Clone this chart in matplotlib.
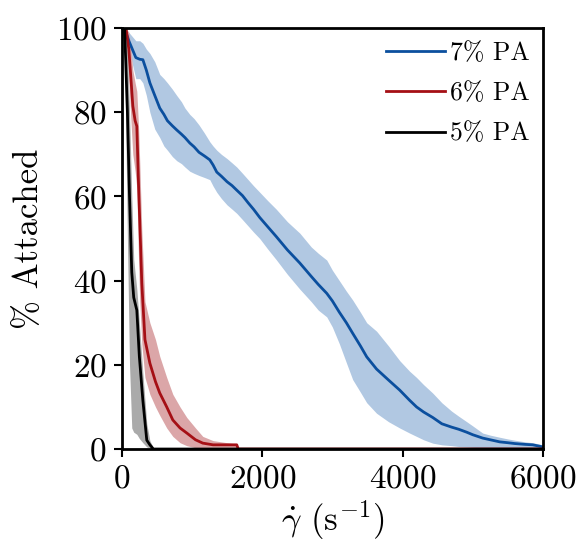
import matplotlib
matplotlib.use("Agg")
import matplotlib.pyplot as plt

plt.rcParams['font.family'] = 'serif'
plt.rcParams['font.serif'] = ['cmr10', 'DejaVu Serif']
plt.rcParams['mathtext.fontset'] = 'cm'
plt.rcParams['axes.formatter.use_mathtext'] = True

# 7% PA
x7 = [0, 40, 100, 200, 256, 300, 350, 400, 470, 541, 600, 650, 720, 783, 850, 900, 969, 1030,
      1100, 1180, 1254, 1300, 1353, 1420, 1500, 1570, 1638, 1720, 1800, 1880, 1966, 2080, 2200,
      2360, 2536, 2700, 2800, 2920, 3000, 3100, 3200, 3290, 3400, 3490, 3630, 3800, 3960, 4100,
      4200, 4300, 4430, 4560, 4700, 4800, 4914, 5000, 5142, 5250, 5385, 5500, 5600, 5750, 5855,
      6000]
y7 = [100, 100, 97, 93, 92.6, 92.5, 90, 87, 84, 81, 79.5, 78, 76.8, 75.8, 74.8, 74, 72.7, 71.8,
      70.5, 69.6, 68.7, 67.5, 65.8, 64.8, 63.5, 62.6, 61.5, 60.2, 58.5, 56.9, 55, 52.8, 50.5,
      47.3, 44.2, 41, 39.1, 37, 35.2, 32.5, 30, 27.5, 24.5, 21.9, 19, 16.4, 14, 11.6,
      10, 8.8, 7.5, 6, 5.2, 4.7, 4.0, 3.4, 2.6, 2.2, 1.7, 1.5, 1.3, 1.1, 1.0,
      0.5]
lo7 = [100, 99, 95, 88, 88, 87, 84, 80, 76, 74, 72, 71, 69.5, 68.5, 67.8, 67, 66, 65.5,
       65, 64.5, 64, 62.5, 61, 59.5, 58, 57, 56, 54.5, 53, 51.5, 50, 47.5, 45,
       41.5, 38, 35, 33, 31.4, 29, 25, 20.5, 16.5, 13.5, 11, 8.5, 6.5, 5, 3.8,
       3, 2.2, 1.4, 1, 0.8, 0.6, 0.5, 0.4, 0.3, 0.25, 0.2, 0.15, 0.1, 0.1, 0.1,
       0]
hi7 = [100, 100, 99, 97, 97, 96.4, 95, 94, 92, 89, 88, 87, 85.5, 84, 82.5, 81, 79.5, 78.5,
       77, 75, 73, 72, 71, 70, 69, 68, 67, 65.5, 64, 62.5, 61, 59, 57,
       54, 51.3, 48, 46.5, 44.9, 42.5, 40, 37.5, 35.4, 32.5, 30, 28, 24.5, 21, 18.5,
       17, 15.3, 13.3, 11, 9, 7.8, 6.5, 5.5, 3.8, 3.3, 2.8, 2.4, 2.1, 1.7, 1.5,
       1.0]

# 6% PA
x6 = [0, 60, 100, 130, 157, 190, 214, 240, 256, 285, 330, 400, 480, 541, 640, 727, 830, 926,
      1050, 1154, 1300, 1500, 1638, 1660, 6000]
y6 = [100, 100, 95, 88, 81.5, 78, 76.7, 62, 54, 39.4, 26, 20.4, 16, 13.3, 10, 6.9, 5, 3.8,
      2.2, 1.4, 1, 1, 1, 0, 0]
lo6 = [100, 98, 88, 78, 70, 66, 62, 44, 35, 25, 17, 13, 10, 8, 5, 3, 1.5, 0.8,
       0.3, 0, 0, 0, 0, 0, 0]
hi6 = [100, 100, 99, 95, 90, 87, 85, 76, 68, 52, 35, 30, 26, 22, 17, 13, 10, 7.5,
       5, 3, 2, 1.5, 1.2, 0, 0]

# 5% PA
x5 = [0, 40, 80, 110, 142, 170, 214, 250, 300, 356, 400, 450, 6000]
y5 = [100, 100, 80, 60, 42, 36, 33, 22, 11.6, 2.1, 1, 0, 0]
lo5 = [100, 95, 50, 20, 5, 4, 3.5, 2.5, 1.5, 0.5, 0.2, 0, 0]
hi5 = [100, 100, 95, 80, 60, 45, 38, 30, 18, 6, 2, 0.3, 0]

labels = ['7% PA', '6% PA', '5% PA']
colors = ['#0b4f9e', '#a50f15', 'black']
shades = ['#b1c8e2', '#dba6a8', '#aaaaaa']

fig = plt.figure(figsize=(5.8, 5.41), dpi=100)
ax = fig.add_axes([0.21, 0.17, 0.726, 0.778])

data = [(x7, y7, lo7, hi7), (x6, y6, lo6, hi6), (x5, y5, lo5, hi5)]
for (x, y, lo, hi), lab, c, s in zip(data, labels, colors, shades):
    ax.fill_between(x, lo, hi, color=s, lw=0)
    ax.plot(x, y, color=c, lw=2, label=lab)

ax.set_xlim(0, 6000)
ax.set_ylim(0, 100)
ax.set_xticks([0, 2000, 4000, 6000])
ax.set_yticks([0, 20, 40, 60, 80, 100])
ax.tick_params(labelsize=24, width=1.5, length=6, pad=5)
for sp in ax.spines.values():
    sp.set_linewidth(2)
ax.set_xlabel(r'$\dot{\gamma}$ (s$^{-1}$)', fontsize=25, labelpad=4)
ax.set_ylabel('% Attached', fontsize=25, labelpad=8)
ax.legend(loc='upper right', frameon=False, fontsize=18.5, handlelength=2.3,
          handletextpad=0.2, borderaxespad=0.1, labelspacing=0.65)

fig.savefig('out.png', dpi=100)
